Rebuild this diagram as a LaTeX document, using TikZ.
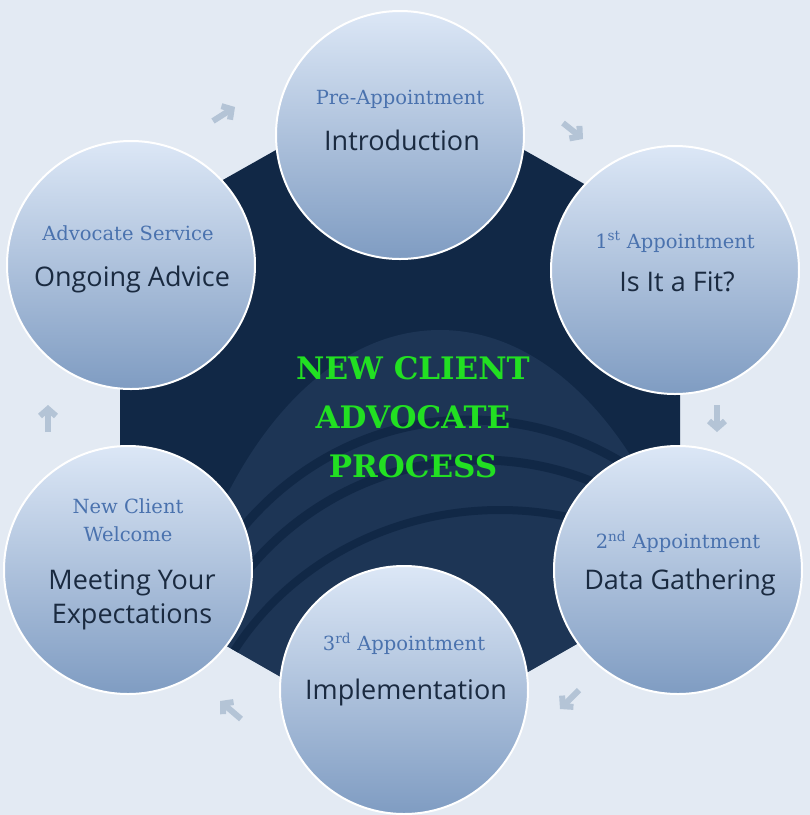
\documentclass[tikz,border=0pt]{standalone}
\usepackage{fontspec}
\setmainfont{DejaVu Serif}
\setsansfont{Open Sans}
\usetikzlibrary{arrows.meta, positioning, calc}
\definecolor{bgblue}{HTML}{E3EAF3}
\definecolor{navy}{HTML}{112846}
\definecolor{arcblue}{HTML}{1D3555}
\definecolor{subblue}{HTML}{4A72AE}
\definecolor{maintext}{HTML}{1A2A40}
\definecolor{topfill}{HTML}{DCE7F6}
\definecolor{botfill}{HTML}{7F9CC2}
\definecolor{chev}{HTML}{B4C4D6}
\definecolor{titlegreen}{HTML}{22E022}
\begin{document}
\begin{tikzpicture}[
  x=1pt, y=-1pt,
  stage/.style = {circle, draw=white, line width=2pt, minimum size=248pt,
    top color=topfill, bottom color=botfill, align=center, inner sep=0pt},
  subtitle/.style = {font=\fontsize{19.5}{23}\selectfont, text=subblue},
  maintitle/.style = {font=\sffamily\fontsize{27}{34}\selectfont, text=maintext},
  chevron/.style = {chev, line width=6pt, -{Straight Barb[length=7pt,width=16pt]}}
]
  \useasboundingbox (0,0) rectangle (810,815);
  \fill[bgblue] (0,0) rectangle (810,815);

  % ======================================================
  % central hexagon with faint arcs
  % ======================================================
  \coordinate (hexA) at (400,80);
  \coordinate (hexB) at (680,238);
  \coordinate (hexC) at (680,585);
  \coordinate (hexD) at (400,745);
  \coordinate (hexE) at (120,585);
  \coordinate (hexF) at (120,238);
  \fill[navy] (hexA) -- (hexB) -- (hexC) -- (hexD) -- (hexE) -- (hexF) -- cycle;
  \begin{scope}
    \clip (hexA) -- (hexB) -- (hexC) -- (hexD) -- (hexE) -- (hexF) -- cycle;
    \fill[arcblue] (440,800) ellipse (280 and 470);
    \draw[navy, line width=9pt] (470,730) ellipse (300 and 310);
    \draw[navy, line width=9pt] (480,760) ellipse (300 and 300);
    \draw[navy, line width=8pt] (500,800) ellipse (310 and 290);
  \end{scope}

  % centre title
  \node[font=\bfseries\fontsize{31}{49}\selectfont, text=titlegreen, align=center] (title) at (413,417)
    {NEW CLIENT\\ADVOCATE\\PROCESS};

  % ======================================================
  % stages
  % ======================================================
  \node[stage] (intro) at (400,135) {};
  \node[subtitle] at ($(intro)+(0,-36)$) {Pre-Appointment};
  \node[maintitle] at ($(intro)+(2,5)$) {Introduction};

  \node[stage] (fit) at (675,270) {};
  \node[subtitle] at ($(fit)+(0,-28)$) {1\textsuperscript{st} Appointment};
  \node[maintitle] at ($(fit)+(2,12)$) {Is It a Fit?};

  \node[stage] (data) at (678,570) {};
  \node[subtitle] at ($(data)+(0,-28)$) {2\textsuperscript{nd} Appointment};
  \node[maintitle] at ($(data)+(2,12)$) {Data Gathering};

  \node[stage] (impl) at (404,690) {};
  \node[subtitle] at ($(impl)+(0,-46)$) {3\textsuperscript{rd} Appointment};
  \node[maintitle] at ($(impl)+(2,2)$) {Implementation};

  \node[stage] (welcome) at (128,570) {};
  \node[subtitle, align=center, font=\fontsize{19.5}{28}\selectfont] at ($(welcome)+(0,-50)$) {New Client\\Welcome};
  \node[maintitle, align=center] at ($(welcome)+(4,30)$) {Meeting Your\\Expectations};

  \node[stage] (advice) at (131,265) {};
  \node[subtitle] at ($(advice)+(-3,-32)$) {Advocate Service};
  \node[maintitle] at ($(advice)+(1,14)$) {Ongoing Advice};

  % ======================================================
  % chevrons between stages
  % ======================================================
  \draw[chevron] (213,121) -- (235,107);
  \draw[chevron] (563,123) -- (583,139);
  \draw[chevron] (717,405) -- (717,432);
  \draw[chevron] (579,690) -- (560,709);
  \draw[chevron] (241,719) -- (220,701);
  \draw[chevron] (48,432) -- (48,405);
\end{tikzpicture}
\end{document}
